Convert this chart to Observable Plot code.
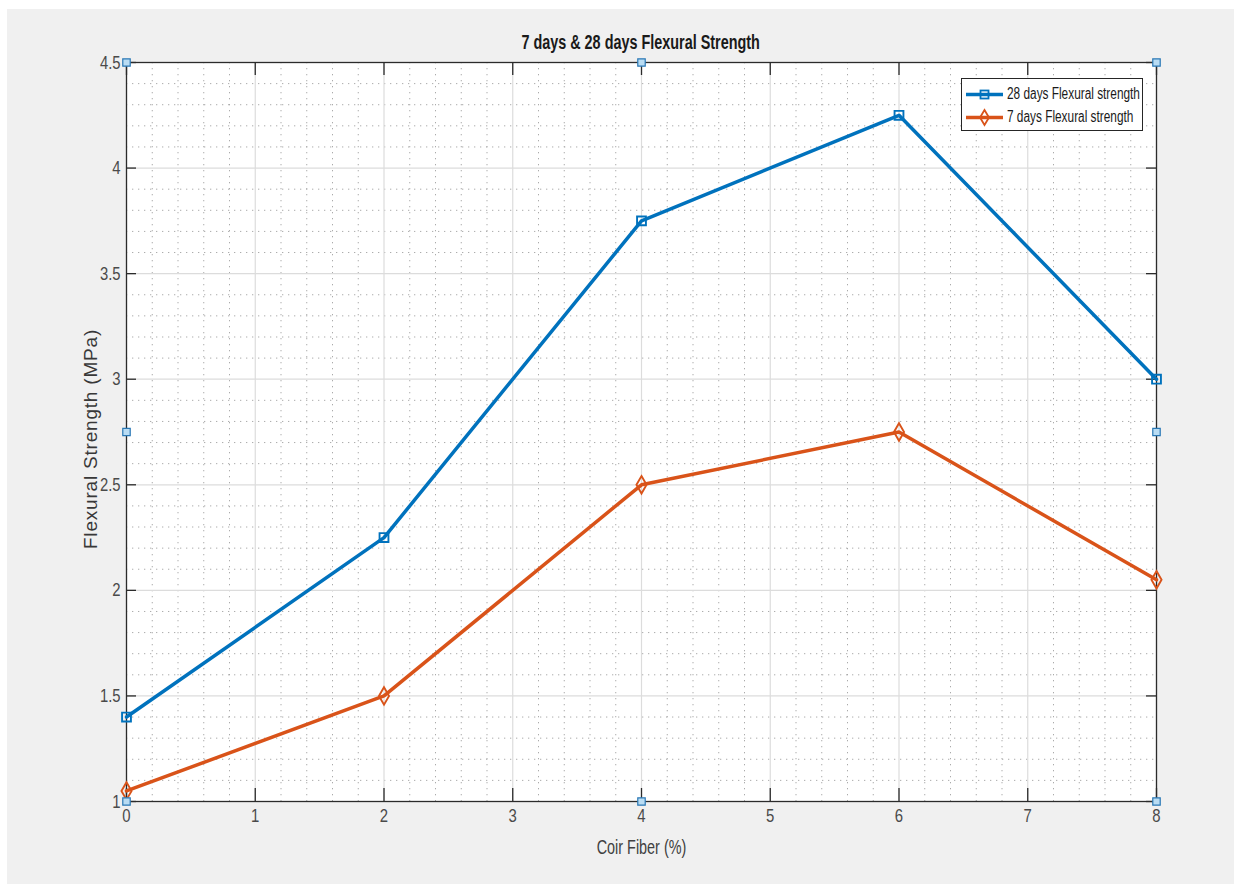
<!DOCTYPE html>
<html>
<head>
<meta charset="utf-8">
<script src="https://cdn.jsdelivr.net/npm/d3@7"></script>
<script src="https://cdn.jsdelivr.net/npm/@observablehq/plot@0.6"></script>
<style>
  html, body { margin: 0; padding: 0; background: #ffffff; }
  #wrap { position: absolute; left: 7px; top: 9px; width: 1227px; height: 875px; background: #f0f0f0; overflow: hidden; }
  #title { position: absolute; left: 0; width: 1268px; top: 22px; text-align: center; font-family: "Liberation Sans", Arial, sans-serif; font-weight: bold; font-size: 20px; color: #1a1a1a; }
  #title span { display: inline-block; transform: scaleX(0.72); transform-origin: center; }
  #legend { position: absolute; left: 954px; top: 69px; width: 182px; height: 53px; background: #fff; border: 1px solid #262626; box-sizing: border-box; font-family: "Liberation Sans", Arial, sans-serif; font-size: 16px; color: #1a1a1a; }
  .row { position: absolute; left: 4px; height: 20px; display: flex; align-items: center; }
  .row svg { display: block; flex: none; }
  .row span { margin-left: 3px; white-space: nowrap; display: inline-block; transform: scaleX(0.74); transform-origin: left center; }
  #chart { position: absolute; left: 0; top: 0; }
</style>
</head>
<body>
<div id="wrap">
  <div id="chart"></div>
  <div id="title"><span></span></div>
  <div id="legend"></div>
</div>
<script>
// ---- data ----
const fiber = [0, 2, 4, 6, 8];
const days28 = [1.4, 2.25, 3.75, 4.25, 3.0];
const days7 = [1.05, 1.5, 2.5, 2.75, 2.05];
const seriesNames = ["28 days Flexural strength", "7 days Flexural strength"];
const xTicks = [0, 1, 2, 3, 4, 5, 6, 7, 8];
const xTickLabels = ["0", "1", "2", "3", "4", "5", "6", "7", "8"];
const yTicks = [1, 1.5, 2, 2.5, 3, 3.5, 4, 4.5];
const yTickLabels = ["1", "1.5", "2", "2.5", "3", "3.5", "4", "4.5"];
const handleX = [0, 4, 8, 0, 8, 0, 4, 8];
const handleY = [4.5, 4.5, 4.5, 2.75, 2.75, 1, 1, 1];
const titleText = "7 days & 28 days Flexural Strength";
const xLabel = "Coir Fiber (%)";
const yLabel = "Flexural Strength (MPa)";

const blue = "#0072BD";
const orange = "#D95319";

const rows28 = fiber.map((f, i) => ({x: f, y: days28[i]}));
const rows7 = fiber.map((f, i) => ({x: f, y: days7[i]}));
const handles = handleX.map((x, i) => ({x, y: handleY[i]}));
const xMinor = d3.range(0, 41).map(i => i / 5).filter(v => !Number.isInteger(v));
const yMinor = d3.range(10, 46).map(i => i / 10).filter(v => Math.abs(v * 2 - Math.round(v * 2)) > 1e-9);

const W = 1227, H = 875;
const mL = 119, mR = 78, mT = 53, mB = 83;
const fw = W - mL - mR, fh = H - mT - mB;
const sans = "'Liberation Sans', Arial, sans-serif";

const chart = Plot.plot({
  width: W, height: H,
  marginLeft: mL, marginRight: mR, marginTop: mT, marginBottom: mB,
  style: {background: "transparent", fontFamily: sans},
  x: {domain: [0, 8]},
  y: {domain: [1, 4.5]},
  marks: [
    Plot.frame({fill: "white", stroke: "none"}),
    Plot.gridX(xMinor, {stroke: "#ababab", strokeOpacity: 1, strokeDasharray: "1.3,4.7"}),
    Plot.gridY(yMinor, {stroke: "#ababab", strokeOpacity: 1, strokeDasharray: "1.3,4.7"}),
    Plot.gridX(xTicks, {stroke: "#dcdcdc", strokeOpacity: 1, strokeWidth: 1.2}),
    Plot.gridY(yTicks, {stroke: "#dcdcdc", strokeOpacity: 1, strokeWidth: 1.2}),
    Plot.frame({stroke: "#2b2b2b", strokeWidth: 1.3}),
    Plot.tickX(xTicks, {x: d => d, insetTop: fh - 13, stroke: "#2b2b2b", strokeWidth: 1.3}),
    Plot.tickX(xTicks, {x: d => d, insetBottom: fh - 13, stroke: "#2b2b2b", strokeWidth: 1.3}),
    Plot.tickY(yTicks, {y: d => d, insetRight: fw - 10, stroke: "#2b2b2b", strokeWidth: 1.3}),
    Plot.tickY(yTicks, {y: d => d, insetLeft: fw - 10, stroke: "#2b2b2b", strokeWidth: 1.3}),
    Plot.axisX(xTicks, {anchor: "bottom", tickSize: 0, tickPadding: 7, fontSize: 19, fill: "#4a4a4a", label: null,
      tickFormat: d => xTickLabels[xTicks.indexOf(d)]}),
    Plot.axisY(yTicks, {anchor: "left", tickSize: 0, tickPadding: 6, fontSize: 19, fill: "#4a4a4a", label: null,
      tickFormat: d => yTickLabels[yTicks.indexOf(d)]}),
    Plot.text([xLabel], {frameAnchor: "bottom", dy: 52, fontSize: 20, fill: "#404040"}),
    Plot.text([yLabel], {frameAnchor: "left", dx: -36, dy: 7, rotate: -90, textAnchor: "middle", fontSize: 19, fill: "#383838"}),
    Plot.line(rows28, {x: "x", y: "y", stroke: blue, strokeWidth: 3.5}),
    Plot.line(rows7, {x: "x", y: "y", stroke: orange, strokeWidth: 3.5}),
    Plot.dot(rows28, {x: "x", y: "y", symbol: "square", r: 5, stroke: blue, fill: "none", strokeWidth: 1.9}),
    Plot.dot(rows7, {x: "x", y: "y", symbol: "diamond", r: 5.3, stroke: orange, fill: "none", strokeWidth: 1.9}),
    Plot.dot(handles, {x: "x", y: "y", symbol: "square", r: 4.2, fill: "#b9dcf3", stroke: "#2a78b5", strokeWidth: 1.2})
  ]
});
document.getElementById("chart").appendChild(chart);
document.getElementById("title").firstChild.textContent = titleText;

// condense text glyphs (narrow look) and letter-space the y label
chart.querySelectorAll("text").forEach(t => {
  const len = t.getComputedTextLength();
  if (t.textContent === yLabel) {
    t.setAttribute("letter-spacing", "0.8");
  } else if (len > 0) {
    const k = t.textContent === xLabel ? 0.72 : 0.78;
    t.setAttribute("textLength", (len * k).toFixed(1));
    t.setAttribute("lengthAdjust", "spacingAndGlyphs");
  }
});

// legend
const leg = document.getElementById("legend");
const colors = [blue, orange];
const syms = ["square", "diamond"];
seriesNames.forEach((name, i) => {
  const row = document.createElement("div");
  row.className = "row";
  row.style.top = (i === 0 ? 5 : 28) + "px";
  const mk = syms[i] === "square"
    ? `<rect x="14.5" y="5.5" width="8" height="8" fill="none" stroke="${colors[i]}" stroke-width="1.8"/>`
    : `<path d="M18.5,2 L23,9.5 L18.5,17 L14,9.5 Z" fill="none" stroke="${colors[i]}" stroke-width="1.8"/>`;
  row.innerHTML = `<svg width="38" height="19"><line x1="0" y1="9.5" x2="37" y2="9.5" stroke="${colors[i]}" stroke-width="3.5"/>${mk}</svg><span>${name}</span>`;
  leg.appendChild(row);
});
</script>
</body>
</html>
